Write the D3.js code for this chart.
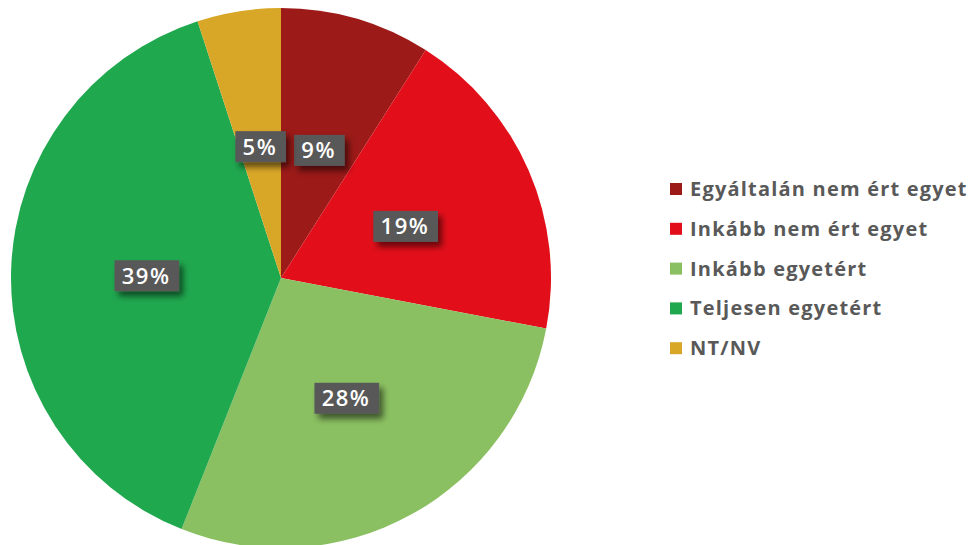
<!DOCTYPE html>
<html>
<head>
<meta charset="utf-8">
<script src="https://cdn.jsdelivr.net/npm/d3@7"></script>
<style>
  html, body { margin: 0; padding: 0; background: #fff; }
  svg { display: block; }
</style>
</head>
<body>
<svg id="chart" width="972" height="545"></svg>
<script>
// Survey answers, clockwise from 12 o'clock
const categories = ["Egyáltalán nem ért egyet", "Inkább nem ért egyet", "Inkább egyetért", "Teljesen egyetért", "NT/NV"];
const values = [9, 19, 28, 39, 5];
const colors = ["#9c1a18", "#e20f1a", "#8bc062", "#20a84f", "#d9a728"];

const svg = d3.select("#chart");
const cx = 281, cy = 278, R = 270;

const defs = svg.append("defs");
const f = defs.append("filter").attr("id", "shadow")
  .attr("x", "-30%").attr("y", "-40%").attr("width", "170%").attr("height", "190%");
f.append("feDropShadow").attr("dx", 4).attr("dy", 5).attr("stdDeviation", 3)
  .attr("flood-color", "#000").attr("flood-opacity", 0.55);

const data = categories.map((c, i) => ({ cat: c, value: values[i], color: colors[i] }));
const pie = d3.pie().value(d => d.value).sort(null);
const arcs = pie(data);
const arc = d3.arc().innerRadius(0).outerRadius(R);
const labelArc = d3.arc().innerRadius(R * 0.5).outerRadius(R * 0.5);

const g = svg.append("g").attr("transform", `translate(${cx},${cy})`);
g.selectAll("path.slice").data(arcs).join("path")
  .attr("class", "slice")
  .attr("d", arc)
  .attr("fill", d => d.data.color);

// Percentage labels in dark boxes
const lab = g.selectAll("g.lab").data(arcs).join("g")
  .attr("class", "lab")
  .attr("transform", d => {
    const [x, y] = labelArc.centroid(d);
    return `translate(${x},${y + 2})`;
  });
lab.each(function(d) {
  const sel = d3.select(this);
  const t = sel.append("text")
    .attr("text-anchor", "middle")
    .attr("dy", "0.36em")
    .attr("fill", "#fff")
    .attr("font-family", "'Open Sans', sans-serif")
    .attr("font-weight", 600)
    .attr("font-size", 22)
    .attr("letter-spacing", 1.5)
    .text(d.data.value + "%");
  const bb = t.node().getBBox();
  const padX = 8, h = 31;
  const w = bb.width + padX * 2;
  sel.insert("rect", "text")
    .attr("x", -w / 2 + 0.75)
    .attr("y", -h / 2)
    .attr("width", w)
    .attr("height", h)
    .attr("fill", "#595959")
    .attr("filter", "url(#shadow)");
});

// Legend
const legend = svg.append("g").attr("transform", "translate(670,189)");
const rows = legend.selectAll("g").data(data).join("g")
  .attr("transform", (d, i) => `translate(0,${i * 39.8})`);
rows.append("rect")
  .attr("x", 0).attr("y", -6).attr("width", 12).attr("height", 12)
  .attr("fill", d => d.color);
rows.append("text")
  .attr("x", 20).attr("dy", "0.35em")
  .attr("fill", "#595959")
  .attr("font-family", "'Open Sans', sans-serif")
  .attr("font-weight", 700)
  .attr("font-size", 20)
  .attr("letter-spacing", 1.2)
  .text(d => d.cat);
</script>
</body>
</html>
